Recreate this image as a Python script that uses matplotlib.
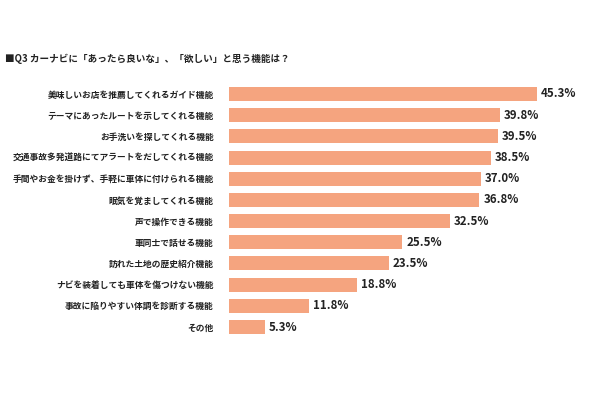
import matplotlib
matplotlib.use("Agg")
import matplotlib.pyplot as plt

plt.rcParams['font.family'] = ['Noto Sans CJK JP', 'DejaVu Sans']

labels = [
    '美味しいお店を推薦してくれるガイド機能',
    'テーマにあったルートを示してくれる機能',
    'お手洗いを探してくれる機能',
    '交通事故多発道路にてアラートをだしてくれる機能',
    '手間やお金を掛けず、手軽に車体に付けられる機能',
    '眠気を覚ましてくれる機能',
    '声で操作できる機能',
    '車同士で話せる機能',
    '訪れた土地の歴史紹介機能',
    'ナビを装着しても車体を傷つけない機能',
    '事故に陥りやすい体調を診断する機能',
    'その他',
]
values = [45.3, 39.8, 39.5, 38.5, 37.0, 36.8, 32.5, 25.5, 23.5, 18.8, 11.8, 5.3]
title = '■Q3 カーナビに「あったら良いな」、「欲しい」と思う機能は？'

fig = plt.figure(figsize=(6.1, 4.0), dpi=100)
ax = fig.add_axes([229 / 610, 0.156, 340 / 610, 0.6355])

y = list(range(len(labels)))
ax.barh(y, values, height=0.66, color='#F5A47F')
ax.set_ylim(len(labels) - 0.5, -0.5)
ax.set_xlim(0, 50)

for yi, v in zip(y, values):
    ax.text(v + 0.6, yi, f'{v:.1f}%', va='center', ha='left',
            fontsize=8.3, fontweight='bold', color='#222222')

ax.set_yticks(y)
ax.set_yticklabels(labels, fontsize=6.3, fontweight='bold', color='#222222')
ax.tick_params(axis='y', length=0, pad=11)
ax.set_xticks([])
for s in ax.spines.values():
    s.set_visible(False)

fig.text(5 / 610, 1 - 59 / 400, title, fontsize=6.9, fontweight='bold',
         va='center', ha='left', color='#222222')

fig.savefig('out.png', dpi=100)
plt.close(fig)
